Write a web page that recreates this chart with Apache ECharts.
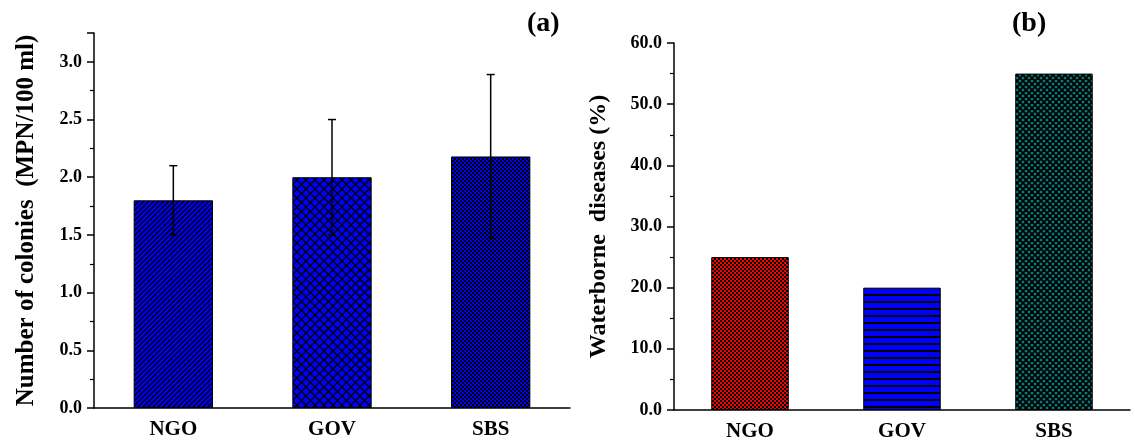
<!DOCTYPE html>
<html><head><meta charset="utf-8">
<script src="https://cdn.jsdelivr.net/npm/echarts@6/dist/echarts.min.js"></script>
<style>html,body{margin:0;padding:0;background:#fff}#c{width:1135px;height:444px}</style>
</head><body><div id="c"></div>
<script>
// ---- data ----
const categories = ['NGO', 'GOV', 'SBS'];
const colonies = [1.8, 2.0, 2.18];
const coloniesLow = [1.5, 1.5, 1.47];
const coloniesHigh = [2.1, 2.5, 2.89];
const diseases = [25, 20, 55];
const axisA = { min: 0, max: 3.25, interval: 0.5 };
const axisB = { min: 0, max: 60, interval: 10 };
const panelTitles = ['(a)', '(b)'];
const yNames = ['Number of colonies  (MPN/100 ml)', 'Waterborne  diseases (%)'];

// ---- fill patterns ----
function tile(w, h, bg, draw) {
  const c = document.createElement('canvas');
  c.width = w; c.height = h;
  const ctx = c.getContext('2d');
  ctx.fillStyle = bg; ctx.fillRect(0, 0, w, h);
  ctx.strokeStyle = '#000'; ctx.fillStyle = '#000';
  draw(ctx, w, h);
  return { image: c, repeat: 'repeat' };
}
function diag(ctx, p, lw, both) {
  ctx.lineWidth = lw;
  const seg = (a, b, c, d) => { ctx.beginPath(); ctx.moveTo(a, b); ctx.lineTo(c, d); ctx.stroke(); };
  seg(-1, p + 1, p + 1, -1); seg(-1, 1, 1, -1); seg(p - 1, p + 1, p + 1, p - 1);
  if (both) { seg(-1, -1, p + 1, p + 1); seg(p - 1, -1, p + 1, 1); seg(-1, p - 1, 1, p + 1); }
}
function checker(ctx, p) { const h = p / 2; ctx.fillRect(0, 0, h, h); ctx.fillRect(h, h, h, h); }
const BLUE = '#0000ff';
const patA = [
  tile(5, 5, BLUE, (ctx, p) => diag(ctx, p, 1.4, false)),
  tile(9, 9, BLUE, (ctx, p) => diag(ctx, p, 1.3, true)),
  tile(4, 4, BLUE, (ctx, p) => checker(ctx, p))
];
const patB = [
  tile(4, 4, '#ff0000', (ctx, p) => checker(ctx, p)),
  tile(8, 7, BLUE, (ctx, w) => ctx.fillRect(0, 0, w, 2)),
  tile(6, 6, '#008080', (ctx, p) => diag(ctx, p, 1.8, true))
];

const FONT = '"Liberation Serif", "Times New Roman", serif';
const black = { color: '#000', width: 1.5 };

function xAxesFor(gi) {
  return [
    { type: 'category', gridIndex: gi, data: categories, position: 'bottom',
      axisLine: { lineStyle: black }, axisTick: { alignWithLabel: true, length: 8, lineStyle: black },
      axisLabel: { fontFamily: FONT, fontWeight: 'bold', fontSize: 21, color: '#000', margin: 11 } },
    { type: 'category', gridIndex: gi, data: categories, position: 'bottom',
      axisLine: { show: false }, axisTick: { length: 4, lineStyle: black },
      axisLabel: { show: false } }
  ];
}
function yAxisFor(gi, ax, name, gap, nameSize) {
  return {
    type: 'value', gridIndex: gi, min: ax.min, max: ax.max, interval: ax.interval,
    name: name, nameLocation: 'middle', nameGap: gap, nameRotate: 90,
    nameTextStyle: { fontFamily: FONT, fontWeight: 'bold', fontSize: nameSize, color: '#000' },
    axisLine: { show: true, lineStyle: black },
    axisTick: { show: true, length: 7, lineStyle: black },
    minorTick: { show: true, splitNumber: 2, length: 4, lineStyle: { color: '#000', width: 1.2 } },
    splitLine: { show: false },
    axisLabel: { fontFamily: FONT, fontWeight: 'bold', fontSize: 18, color: '#000', margin: 12,
      showMaxLabel: ax.max % ax.interval === 0, formatter: v => v.toFixed(1) }
  };
}

const chart = echarts.init(document.getElementById('c'), null, { renderer: 'canvas' });
chart.setOption({
  animation: false,
  backgroundColor: '#fff',
  title: [
    { text: panelTitles[0], left: 527, top: 10, padding: 0,
      textStyle: { fontFamily: FONT, fontWeight: 'bold', fontSize: 28, color: '#000' } },
    { text: panelTitles[1], left: 1012, top: 10, padding: 0,
      textStyle: { fontFamily: FONT, fontWeight: 'bold', fontSize: 28, color: '#000' } }
  ],
  grid: [
    { left: 94, top: 33, right: 565, bottom: 36 },
    { left: 674, top: 43, right: 5, bottom: 34 }
  ],
  xAxis: [...xAxesFor(0), ...xAxesFor(1)],
  yAxis: [yAxisFor(0, axisA, yNames[0], 55, 25), yAxisFor(1, axisB, yNames[1], 63, 24)],
  series: [
    { type: 'bar', xAxisIndex: 0, yAxisIndex: 0, barWidth: '50%',
      data: colonies.map((v, i) => ({ value: v, itemStyle: { color: patA[i] } })),
      itemStyle: { borderColor: '#000', borderWidth: 1 } },
    { type: 'custom', xAxisIndex: 0, yAxisIndex: 0, z: 5,
      data: categories.map((c, i) => [i, coloniesLow[i], coloniesHigh[i]]),
      renderItem: (params, api) => {
        const x = api.value(0);
        const lo = api.coord([x, api.value(1)]);
        const hi = api.coord([x, api.value(2)]);
        const w = 4, st = { stroke: '#000', lineWidth: 1.5 };
        return { type: 'group', children: [
          { type: 'line', shape: { x1: lo[0], y1: lo[1], x2: hi[0], y2: hi[1] }, style: st },
          { type: 'line', shape: { x1: hi[0] - w, y1: hi[1], x2: hi[0] + w, y2: hi[1] }, style: st },
          { type: 'line', shape: { x1: lo[0] - w, y1: lo[1], x2: lo[0] + w, y2: lo[1] }, style: st }
        ] };
      } },
    { type: 'bar', xAxisIndex: 2, yAxisIndex: 1, barWidth: '51%',
      data: diseases.map((v, i) => ({ value: v, itemStyle: { color: patB[i] } })),
      itemStyle: { borderColor: '#000', borderWidth: 1 } }
  ]
});
</script>
</body></html>
